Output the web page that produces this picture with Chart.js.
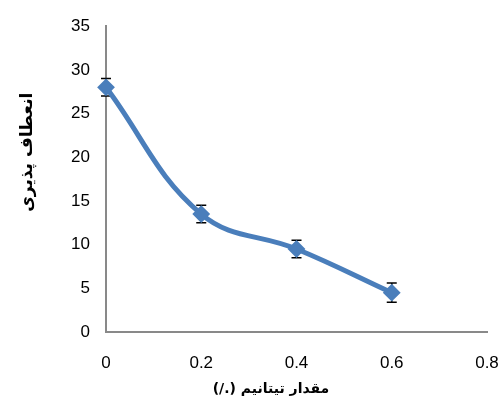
<!DOCTYPE html>
<html>
<head>
<meta charset="utf-8">
<script src="https://cdn.jsdelivr.net/npm/chart.js@4.4.1/dist/chart.umd.min.js"></script>
<style>
  html, body { margin: 0; padding: 0; background: #ffffff; }
  #wrap { width: 504px; height: 403px; }
</style>
</head>
<body>
<div id="wrap"><canvas id="chart" width="504" height="403"></canvas></div>
<script>
// Titanium content (%) and the measured flexibility with its error margin
const titaniumContent = [0, 0.2, 0.4, 0.6];
const flexibility = [28, 13.5, 9.5, 4.5];
const flexibilityError = [1, 1, 1, 1.1];

// Axis ticks
const xTickValues = [0, 0.2, 0.4, 0.6, 0.8];
const yTickValues = [0, 5, 10, 15, 20, 25, 30, 35];

// Axis titles
const xAxisTitle = 'مقدار تیتانیم (./)';
const yAxisTitle = 'انعطاف پذیری';

const lineBlue = '#4a7ebb';
const axisGrey = '#898989';
const tickFont = { family: '"Liberation Sans", Arial, sans-serif', size: 17 };
const xTitleFont = 'bold 14px "DejaVu Sans", sans-serif';
const yTitleFont = 'bold 17px "DejaVu Sans", sans-serif';

// Vertical error bars with caps, drawn under the line and markers
const errorBars = {
  id: 'errorBars',
  beforeDatasetsDraw(chart) {
    const { ctx, scales: { x, y } } = chart;
    ctx.save();
    ctx.strokeStyle = '#000000';
    ctx.lineWidth = 1.5;
    titaniumContent.forEach((t, i) => {
      const px = x.getPixelForValue(t);
      const top = y.getPixelForValue(flexibility[i] + flexibilityError[i]);
      const bottom = y.getPixelForValue(flexibility[i] - flexibilityError[i]);
      ctx.beginPath();
      ctx.moveTo(px, top); ctx.lineTo(px, bottom);
      ctx.moveTo(px - 5, top); ctx.lineTo(px + 5, top);
      ctx.moveTo(px - 5, bottom); ctx.lineTo(px + 5, bottom);
      ctx.stroke();
    });
    ctx.restore();
  }
};

// Right-to-left axis titles placed beside the plot area
const axisTitles = {
  id: 'axisTitles',
  afterDraw(chart) {
    const { ctx, chartArea } = chart;
    ctx.save();
    ctx.fillStyle = '#000000';
    ctx.direction = 'rtl';
    ctx.textAlign = 'center';
    ctx.textBaseline = 'middle';
    ctx.font = xTitleFont;
    ctx.fillText(xAxisTitle, chartArea.left + 165, chartArea.bottom + 57);
    ctx.font = yTitleFont;
    ctx.translate(chartArea.left - 78, chartArea.top + 126);
    ctx.rotate(-Math.PI / 2);
    ctx.fillText(yAxisTitle, 0, 0);
    ctx.restore();
  }
};

new Chart(document.getElementById('chart'), {
  type: 'line',
  data: {
    datasets: [{
      data: titaniumContent.map((t, i) => ({ x: t, y: flexibility[i] })),
      borderColor: lineBlue,
      backgroundColor: lineBlue,
      borderWidth: 5,
      tension: 0.4,
      pointStyle: 'rectRot',
      pointRadius: 7.5,
      pointBorderWidth: 2,
      pointBorderColor: lineBlue,
      pointBackgroundColor: lineBlue,
      clip: false
    }]
  },
  options: {
    responsive: false,
    animation: false,
    events: [],
    layout: { padding: { top: 25, right: 17, left: 0, bottom: 0 } },
    plugins: {
      legend: { display: false },
      tooltip: { enabled: false }
    },
    scales: {
      x: {
        type: 'linear',
        min: xTickValues[0],
        max: xTickValues[xTickValues.length - 1],
        afterBuildTicks(scale) { scale.ticks = xTickValues.map(v => ({ value: v })); },
        afterFit(scale) {
          scale.height = 71;
          scale.paddingLeft = 0;
          scale.paddingRight = 0;
        },
        grid: { display: false, drawTicks: false },
        border: { display: true, color: axisGrey, width: 2 },
        ticks: { color: '#000000', font: tickFont, padding: 21, maxRotation: 0,
                 callback: v => String(v) }
      },
      y: {
        type: 'linear',
        min: yTickValues[0],
        max: yTickValues[yTickValues.length - 1],
        afterBuildTicks(scale) { scale.ticks = yTickValues.map(v => ({ value: v })); },
        afterFit(scale) { scale.width = 106; },
        grid: { display: false, drawTicks: false },
        border: { display: true, color: axisGrey, width: 2 },
        ticks: { color: '#000000', font: tickFont, padding: 16 }
      }
    }
  },
  plugins: [errorBars, axisTitles]
});
</script>
</body>
</html>
